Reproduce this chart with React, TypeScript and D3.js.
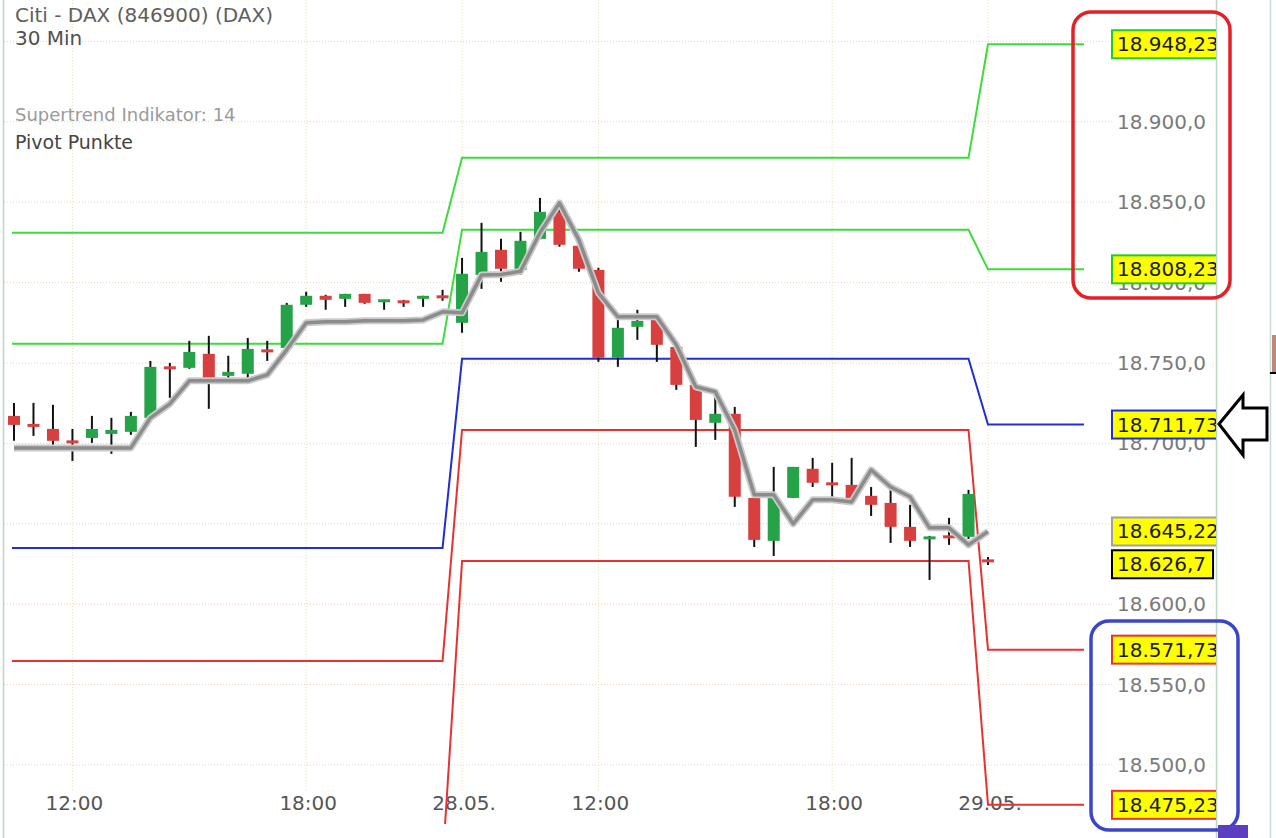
import React from "react";
import * as d3 from "d3";

const W = 1276;
const H = 838;

// 30-minute candles (27.05. 10:30 … 21:30, 28.05. 08:30 … 21:30, 29.05. 08:30)
const openP = [
  18717.1, 18711.5, 18709.0, 18701.3, 18703.4, 18705.9, 18707.2, 18715.9, 18747.3, 18747.0,
  18755.7, 18742.0, 18743.3, 18757.9, 18759.4, 18786.2, 18791.8, 18789.9, 18793.0, 18788.4,
  18788.4, 18789.9, 18791.5, 18775.0, 18804.8, 18820.4, 18807.9, 18827.2, 18844.0, 18822.9,
  18807.9, 18753.2, 18772.5, 18777.5, 18760.0, 18736.4, 18712.8, 18718.4, 18666.1, 18639.4,
  18666.1, 18684.2, 18675.2, 18674.2, 18667.4, 18663.0, 18648.1, 18640.6, 18642.2, 18641.9,
  18627.2,
];
const highP = [
  18725.2, 18725.2, 18724.0, 18709.0, 18717.1, 18715.9, 18719.6, 18751.3, 18750.1, 18763.8,
  18766.9, 18754.5, 18765.6, 18763.8, 18787.4, 18794.3, 18792.4, 18793.0, 18793.0, 18789.3,
  18789.3, 18791.8, 18795.5, 18815.4, 18837.2, 18827.2, 18831.6, 18852.7, 18848.4, 18823.5,
  18809.2, 18778.1, 18783.1, 18778.1, 18760.0, 18736.4, 18730.2, 18722.7, 18666.1, 18685.4,
  18685.4, 18691.0, 18687.9, 18691.0, 18672.9, 18671.7, 18661.8, 18642.5, 18653.7, 18671.1,
  18629.4,
];
const lowP = [
  18701.6, 18704.7, 18699.1, 18689.1, 18700.3, 18693.5, 18705.3, 18714.6, 18728.3, 18746.4,
  18721.5, 18739.5, 18740.1, 18751.3, 18758.2, 18784.9, 18783.1, 18784.9, 18786.8, 18783.1,
  18784.9, 18784.9, 18788.7, 18768.8, 18796.1, 18800.5, 18804.8, 18827.0, 18822.3, 18806.7,
  18750.7, 18747.6, 18764.4, 18750.7, 18733.3, 18697.8, 18702.2, 18660.5, 18635.6, 18630.0,
  18666.1, 18672.9, 18664.9, 18666.0, 18654.9, 18638.1, 18635.6, 18615.1, 18636.9, 18640.6,
  18624.4,
];
const closeP = [
  18711.5, 18710.9, 18701.6, 18700.6, 18709.0, 18708.4, 18717.1, 18747.6, 18746.7, 18756.9,
  18740.1, 18744.5, 18758.8, 18757.2, 18786.2, 18791.8, 18789.3, 18793.0, 18787.4, 18789.0,
  18787.7, 18791.8, 18790.8, 18805.5, 18819.1, 18808.6, 18826.0, 18844.0, 18823.5, 18808.6,
  18753.2, 18771.9, 18776.2, 18761.3, 18736.4, 18714.6, 18718.4, 18666.8, 18640.0, 18666.1,
  18685.4, 18675.5, 18674.5, 18666.1, 18661.8, 18648.1, 18639.4, 18641.9, 18641.6, 18668.6,
  18626.7,
];
const supertrend = [
  18697.2, 18697.2, 18697.2, 18697.2, 18697.2, 18697.2, 18697.2, 18715.9, 18724.6, 18738.9,
  18738.9, 18738.9, 18738.9, 18742.6, 18758.2, 18775.0, 18775.6, 18775.6, 18776.2, 18776.2,
  18776.2, 18776.8, 18781.8, 18781.2, 18804.8, 18805.0, 18807.0, 18831.0, 18849.6, 18826.6,
  18793.6, 18778.7, 18778.7, 18778.7, 18761.3, 18735.2, 18732.1, 18708.4, 18668.0, 18668.0,
  18650.0, 18664.9, 18664.9, 18663.6, 18683.5, 18672.9, 18666.8, 18647.5, 18647.5, 18636.9,
  18645.22,
];

// Daily pivot points (27.05., 28.05., 29.05.)
const dayStart = [0, 23, 50];
const pivotR2 = [18831.0, 18877.6, 18948.23];
const pivotR1 = [18761.9, 18832.8, 18808.23];
const pivotP = [18635.0, 18752.6, 18711.73];
const pivotS1 = [18564.7, 18708.4, 18571.73];
const pivotS2 = [18439.0, 18626.9, 18475.23];

const timeTickIndex = [3, 15, 23, 30, 42, 50];
const timeTickLabels = ["12:00", "18:00", "28.05.", "12:00", "18:00", "29.05."];
const priceTicks = [18500, 18550, 18600, 18650, 18700, 18750, 18800, 18850, 18900, 18950];

const FONT = "DejaVu Sans, Verdana, sans-serif";
const GREEN = "#3ddc3d";
const BLUE = "#1f2fd4";
const RED = "#e83232";

const x = d3.scaleLinear().domain([0, 50]).range([14, 988]);
const y = d3.scaleLinear().domain([18500, 18900]).range([765, 121.8]);

function deFormat(s: string) {
  return s.replace(/,/g, "#").replace(".", ",").replace(/#/g, ".");
}
const fmtTick = (v: number) => deFormat(d3.format(",.1f")(v));
const fmtLabel = (v: number) => {
  let s = deFormat(d3.format(",.2f")(v));
  if (s.endsWith("0")) s = s.slice(0, -1);
  return s;
};

function pivotPath(levels: number[]) {
  const pts: [number, number][] = [];
  levels.forEach((v, d) => {
    const x0 = d === 0 ? 12 : x(dayStart[d]);
    const x1 = d === levels.length - 1 ? 1084 : x(dayStart[d + 1] - 1);
    pts.push([x0, y(v)], [x1, y(v)]);
  });
  return d3.line()(pts) || "";
}

export default function App() {
  const idx = d3.range(openP.length);
  const stLine = d3
    .line<number>()
    .x((_, i) => x(i))
    .y((d) => y(d))(supertrend) || "";

  const pivots = [
    { v: pivotR2, c: GREEN },
    { v: pivotR1, c: GREEN },
    { v: pivotP, c: BLUE },
    { v: pivotS1, c: RED },
    { v: pivotS2, c: RED },
  ];

  const last = openP.length - 1;
  const rightLabels = [
    { v: pivotR2[2], c: "#22cc22" },
    { v: pivotR1[2], c: "#22cc22" },
    { v: pivotP[2], c: BLUE },
    { v: supertrend[last], c: "#a0a0a0" },
    { v: closeP[last], c: "#000", dy: 3 },
    { v: pivotS1[2], c: RED },
    { v: pivotS2[2], c: RED },
  ];

  return (
    <svg
      width={W}
      height={H}
      viewBox={`0 0 ${W} ${H}`}
      style={{ position: "fixed", left: 0, top: 0, background: "#fff" }}
      fontFamily={FONT}
    >
      <defs>
        <clipPath id="plotClip">
          <rect x={4} y={0} width={1212} height={824} />
        </clipPath>
        <clipPath id="axisClip">
          <rect x={1000} y={0} width={216} height={H} />
        </clipPath>
      </defs>
      <rect x={0} y={0} width={W} height={H} fill="#fff" />

      {/* grid */}
      {priceTicks.map((t) => (
        <line
          key={"h" + t}
          x1={4}
          x2={1113}
          y1={y(t)}
          y2={y(t)}
          stroke="#ecd0bc"
          strokeWidth={1}
          strokeDasharray="1 2"
        />
      ))}
      {timeTickIndex.map((i) => (
        <line
          key={"v" + i}
          x1={x(i)}
          x2={x(i)}
          y1={0}
          y2={790}
          stroke="#ece0a8"
          strokeWidth={1}
          strokeDasharray="1 2"
        />
      ))}

      {/* frame lines */}
      <line x1={3.5} x2={3.5} y1={0} y2={H} stroke="#bcd6c4" strokeWidth={1.5} />
      <line x1={1216.5} x2={1216.5} y1={0} y2={H} stroke="#bcd6c4" strokeWidth={1.5} />
      <line x1={1270.5} x2={1270.5} y1={0} y2={H} stroke="#c8dcd0" strokeWidth={1.5} />

      {/* price axis tick labels */}
      {priceTicks.map((t) => (
        <text key={"pt" + t} x={1117} y={y(t) + 7} fontSize={20} fill="#7a7a7a">
          {fmtTick(t)}
        </text>
      ))}

      {/* time axis labels */}
      {timeTickIndex.map((i, k) => (
        <text
          key={"tt" + k}
          x={x(i) + 2}
          y={810}
          fontSize={20}
          fill="#555"
          textAnchor="middle"
        >
          {timeTickLabels[k]}
        </text>
      ))}

      <g clipPath="url(#plotClip)">
        {/* pivot lines */}
        {pivots.map((p, k) => (
          <path key={"pv" + k} d={pivotPath(p.v)} fill="none" stroke={p.c} strokeWidth={2} />
        ))}

        {/* candles */}
        {idx.map((i) => {
          const up = closeP[i] >= openP[i];
          const top = y(Math.max(openP[i], closeP[i]));
          const bot = y(Math.min(openP[i], closeP[i]));
          const h = Math.max(3, bot - top);
          const cx = x(i);
          return (
            <g key={"c" + i}>
              <line x1={cx} x2={cx} y1={y(highP[i])} y2={y(lowP[i])} stroke="#111" strokeWidth={2} />
              <rect
                x={cx - 6}
                y={h === 3 ? (top + bot) / 2 - 1.5 : top}
                width={12}
                height={h}
                fill={up ? "#26a348" : "#d8403f"}
              />
            </g>
          );
        })}

        {/* supertrend */}
        <path d={stLine} fill="none" stroke="#cacaca" strokeWidth={7} strokeLinejoin="round" />
        <path d={stLine} fill="none" stroke="#8c8c8c" strokeWidth={3.5} strokeLinejoin="round" />
      </g>

      {/* right value labels */}
      <g clipPath="url(#axisClip)">
        {rightLabels.map((l, k) => {
          const s = fmtLabel(l.v);
          const yy = y(l.v) + (l.dy || 0);
          const digits = s.replace(/[.,]/g, "").length;
          const punct = s.length - digits;
          const w = 12 + digits * 12.72 + punct * 6.36;
          return (
            <g key={"rl" + k}>
              <rect x={1112} y={yy - 14} width={w} height={28} fill="#ffff00" stroke={l.c} strokeWidth={2} />
              <text x={1117} y={yy + 7} fontSize={20} fill="#1a1a1a">
                {s}
              </text>
            </g>
          );
        })}
      </g>

      {/* legend texts */}
      <text x={15} y={22} fontSize={20} fill="#5e5e5e">Citi - DAX (846900) (DAX)</text>
      <text x={15} y={45} fontSize={20} fill="#505050">30 Min</text>
      <text x={15} y={121} fontSize={18} fill="#9a9a9a">Supertrend Indikator: 14</text>
      <text x={15} y={149} fontSize={19} fill="#444">Pivot Punkte</text>

      {/* annotations */}
      <rect x={1073} y={12} width={157} height={286} rx={18} fill="none" stroke="#e41f26" strokeWidth={3.5} />
      <rect x={1091} y={621} width={147} height={209} rx={18} fill="none" stroke="#3b45c8" strokeWidth={3.5} />
      <polygon
        points="1219,424 1243,395 1243,408 1267,408 1267,440 1243,440 1243,455"
        fill="#fff"
        stroke="#000"
        strokeWidth={3}
        strokeLinejoin="miter"
      />
      <rect x={1218} y={825} width={30} height={13} fill="#5b3fc0" />
      <rect x={1272} y={335} width={4} height={38} fill="#b98b7f" />
      <line x1={1270} x2={1276} y1={373} y2={373} stroke="#000" strokeWidth={2} />
    </svg>
  );
}
